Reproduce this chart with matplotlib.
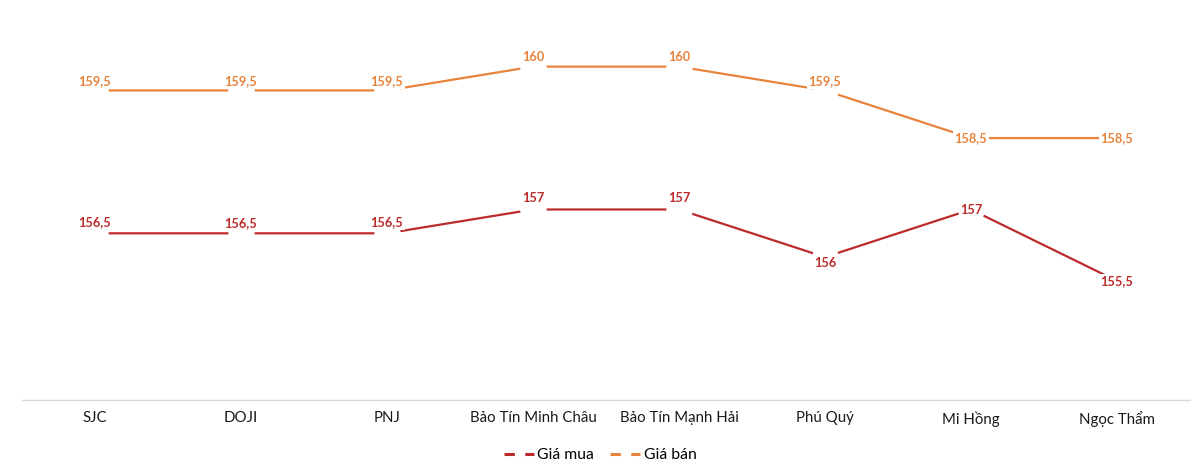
import matplotlib
matplotlib.use("Agg")
import matplotlib.pyplot as plt
from matplotlib.lines import Line2D
import numpy as np

plt.rcParams.update({
    "font.family": ["Lato", "DejaVu Sans"],
    "font.size": 10.5,
})

RED = "#BC2A2A"
ORANGE = "#E8833C"

categories = ["SJC", "DOJI", "PNJ", "Bảo Tín Minh Châu", "Bảo Tín Mạnh Hải",
              "Phú Quý", "Mi Hồng", "Ngọc Thẩm"]
gia_mua = [156.5, 156.5, 156.5, 157, 157, 156, 157, 155.5]
gia_ban = [159.5, 159.5, 159.5, 160, 160, 159.5, 158.5, 158.5]

# label offsets in pixels (positive = above the point)
off_mua = [11, 10, 11, 12, 12, -6, 0, 0]
off_ban = [9, 9, 9, 10, 10, 9, 0, 0]

fig = plt.figure(figsize=(12, 4.7), dpi=100)
ax = fig.add_axes([22 / 1200, 1 - 400 / 470, 1168 / 1200, 381 / 470])

x = np.arange(len(categories))
for vals, col, offs in [(gia_mua, RED, off_mua), (gia_ban, ORANGE, off_ban)]:
    ax.plot(x, vals, color=col, linewidth=1.6, zorder=2,
            solid_capstyle="butt")
    # white blobs break the line around each point, like the Excel original
    ax.plot(x, vals, linestyle="none", marker="o", markersize=19,
            markerfacecolor="white", markeredgecolor="none", zorder=3)
    for xi, v, o in zip(x, vals, offs):
        lab = f"{v:g}".replace(".", ",")
        ax.annotate(lab, (xi, v), xytext=(0, o * 0.72), textcoords="offset points",
                    ha="center", va="center", fontsize=9.2, fontweight="bold",
                    color=col, zorder=4,
                    bbox=dict(boxstyle="square,pad=0.1", fc="white", ec="none"))

ax.set_xlim(-0.5, len(categories) - 0.5)
ax.set_ylim(153, 161)
ax.set_yticks([])
ax.set_xticks(x)
ax.set_xticklabels(categories, fontsize=10.8, color="#1a1a1a")
ax.tick_params(axis="x", length=0, pad=8)
for s in ["top", "right", "left"]:
    ax.spines[s].set_visible(False)
ax.spines["bottom"].set_color("#d9d9d9")
ax.spines["bottom"].set_linewidth(1.0)

handles = [Line2D([0], [0], color=RED, lw=2.2, linestyle=(0, (3.4, 3.4))),
           Line2D([0], [0], color=ORANGE, lw=2.2, linestyle=(0, (3.4, 3.4)))]
fig.legend(handles, ["Giá mua", "Giá bán"], loc="center",
           bbox_to_anchor=(0.5, 1 - 455 / 470), ncol=2, frameon=False,
           fontsize=11.3, handlelength=1.95, handletextpad=0.2,
           columnspacing=1.0)

fig.savefig("out.png", dpi=100)
